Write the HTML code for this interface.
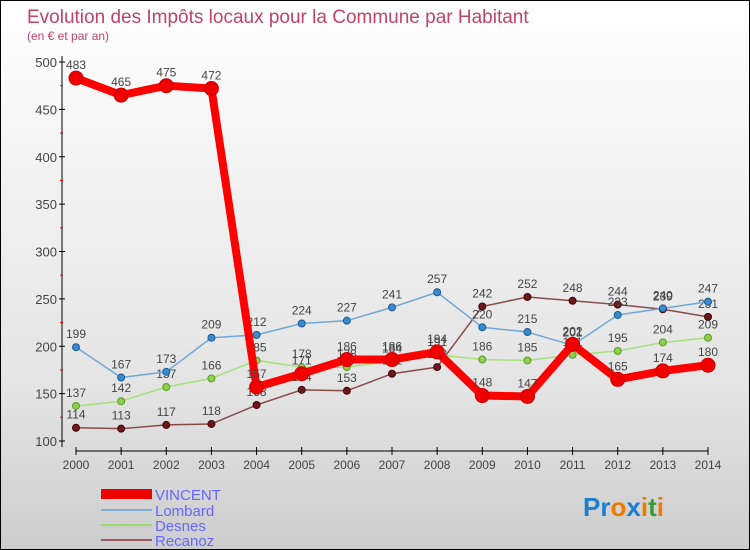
<!DOCTYPE html>
<html><head><meta charset="utf-8"><style>
body{margin:0}
#c{width:748px;height:548px;border:1px solid #000;background:linear-gradient(#fff,#f3f3f3 30%,#e4e4e4 70%,#cdcdcd);position:relative;font-family:"Liberation Sans",sans-serif;overflow:hidden}
text{font-family:"Liberation Sans",sans-serif}
</style></head><body>
<div id="c">
<svg id="s" width="748" height="548">
<text x="26" y="22" font-size="19" fill="#c0436a">Evolution des Impôts locaux pour la Commune par Habitant</text>
<text x="26" y="39" font-size="12" fill="#c0436a">(en € et par an)</text>
<g id="axes"></g><g id="series"></g>
<g>
<rect x="100" y="488" width="51" height="10" fill="#e00"/>
<text x="154" y="499" font-size="15" fill="#66f">VINCENT</text>
<line x1="100" y1="546" x2="151" y2="546" stroke="#7fb0d8" stroke-width="2" transform="translate(0,-37)"/>
<text x="154" y="515" font-size="15" fill="#66f">Lombard</text>
<line x1="100" y1="524" x2="151" y2="524" stroke="#9fd870" stroke-width="2"/>
<text x="154" y="530" font-size="15" fill="#66f">Desnes</text>
<line x1="100" y1="539" x2="151" y2="539" stroke="#9a5a5a" stroke-width="2"/>
<text x="154" y="545" font-size="15" fill="#66f">Recanoz</text>
</g>
<text x="582" y="515" font-size="26" font-weight="bold"><tspan fill="#1a7fd0">Pr</tspan><tspan fill="#f07a00">o</tspan><tspan fill="#1a7fd0">x</tspan><tspan fill="#f07a00">i</tspan><tspan fill="#3a9a3a">t</tspan><tspan fill="#f07a00">i</tspan></text>
</svg></div>
<script>
const years=[2000,2001,2002,2003,2004,2005,2006,2007,2008,2009,2010,2011,2012,2013,2014];
const yTicks=[100,150,200,250,300,350,400,450,500];
const vincent=[483,465,475,472,157,171,186,186,194,148,147,202,165,174,180];
const lombard=[199,167,173,209,212,224,227,241,257,220,215,201,233,240,247];
const desnes=[137,142,157,166,185,178,178,184,191,186,185,191,195,204,209];
const recanoz=[114,113,117,118,138,154,153,171,178,242,252,248,244,239,231];
const NS="http://www.w3.org/2000/svg";
const x=i=>75+i*(707-75)/(years.length-1);
const y=v=>440-(v-100)*(440-61)/400;
function mk(t,a,p){const e=document.createElementNS(NS,t);for(const k in a)e.setAttribute(k,a[k]);p.appendChild(e);return e;}
const ax=document.getElementById('axes');
let e=mk('line',{x1:61,y1:55,x2:61,y2:446,stroke:'#000'},ax);


e=mk('line',{x1:75,y1:450,x2:707,y2:450,stroke:'#000'},ax);


yTicks.forEach((v,i)=>{
 mk('line',{x1:58,y1:y(v),x2:64,y2:y(v),stroke:'#000'},ax);
 if(i<yTicks.length-1) mk('line',{x1:59,y1:y(v+25),x2:62,y2:y(v+25),stroke:'#e00'},ax);
 const t=mk('text',{x:56,y:y(v)+5,'font-size':13,fill:'#444','text-anchor':'end'},ax);t.textContent=v;
 
 
});
years.forEach((yr,i)=>{
 mk('line',{x1:x(i),y1:446,x2:x(i),y2:454,stroke:'#000'},ax);
 const t=mk('text',{x:x(i),y:468,'font-size':12,fill:'#444','text-anchor':'middle'},ax);t.textContent=yr;
 
 
});
const sg=document.getElementById('series');
function series(name,d,color,dot,w,r,dark){
 const g=mk('g',{},sg);
 
 
 const p=mk('polyline',{points:d.map((v,i)=>x(i)+','+y(v)).join(' '),fill:'none',stroke:color,'stroke-width':w,'stroke-linejoin':'round'},g);
 
 
 d.forEach((v,i)=>{
  const c=mk('circle',{cx:x(i),cy:y(v),r:r,fill:dot,stroke:dark,'stroke-width':1},g);
  
  
  const t=mk('text',{x:x(i),y:y(v)-9,'font-size':12,fill:'#444','text-anchor':'middle'},g);t.textContent=v;
  
  
 });
}
series('recanoz',recanoz,'#8a4a4a','#6a1a1a',1.5,3.5,'#400');
series('desnes',desnes,'#a6e07a','#8ed04a',1.5,3.5,'#5a9a2a');
series('lombard',lombard,'#6fa8d8','#3a8ad0',1.5,3.5,'#1a5a90');
series('vincent',vincent,'#f00','#e00',8,7,'#c00');
</script>
</body></html>
